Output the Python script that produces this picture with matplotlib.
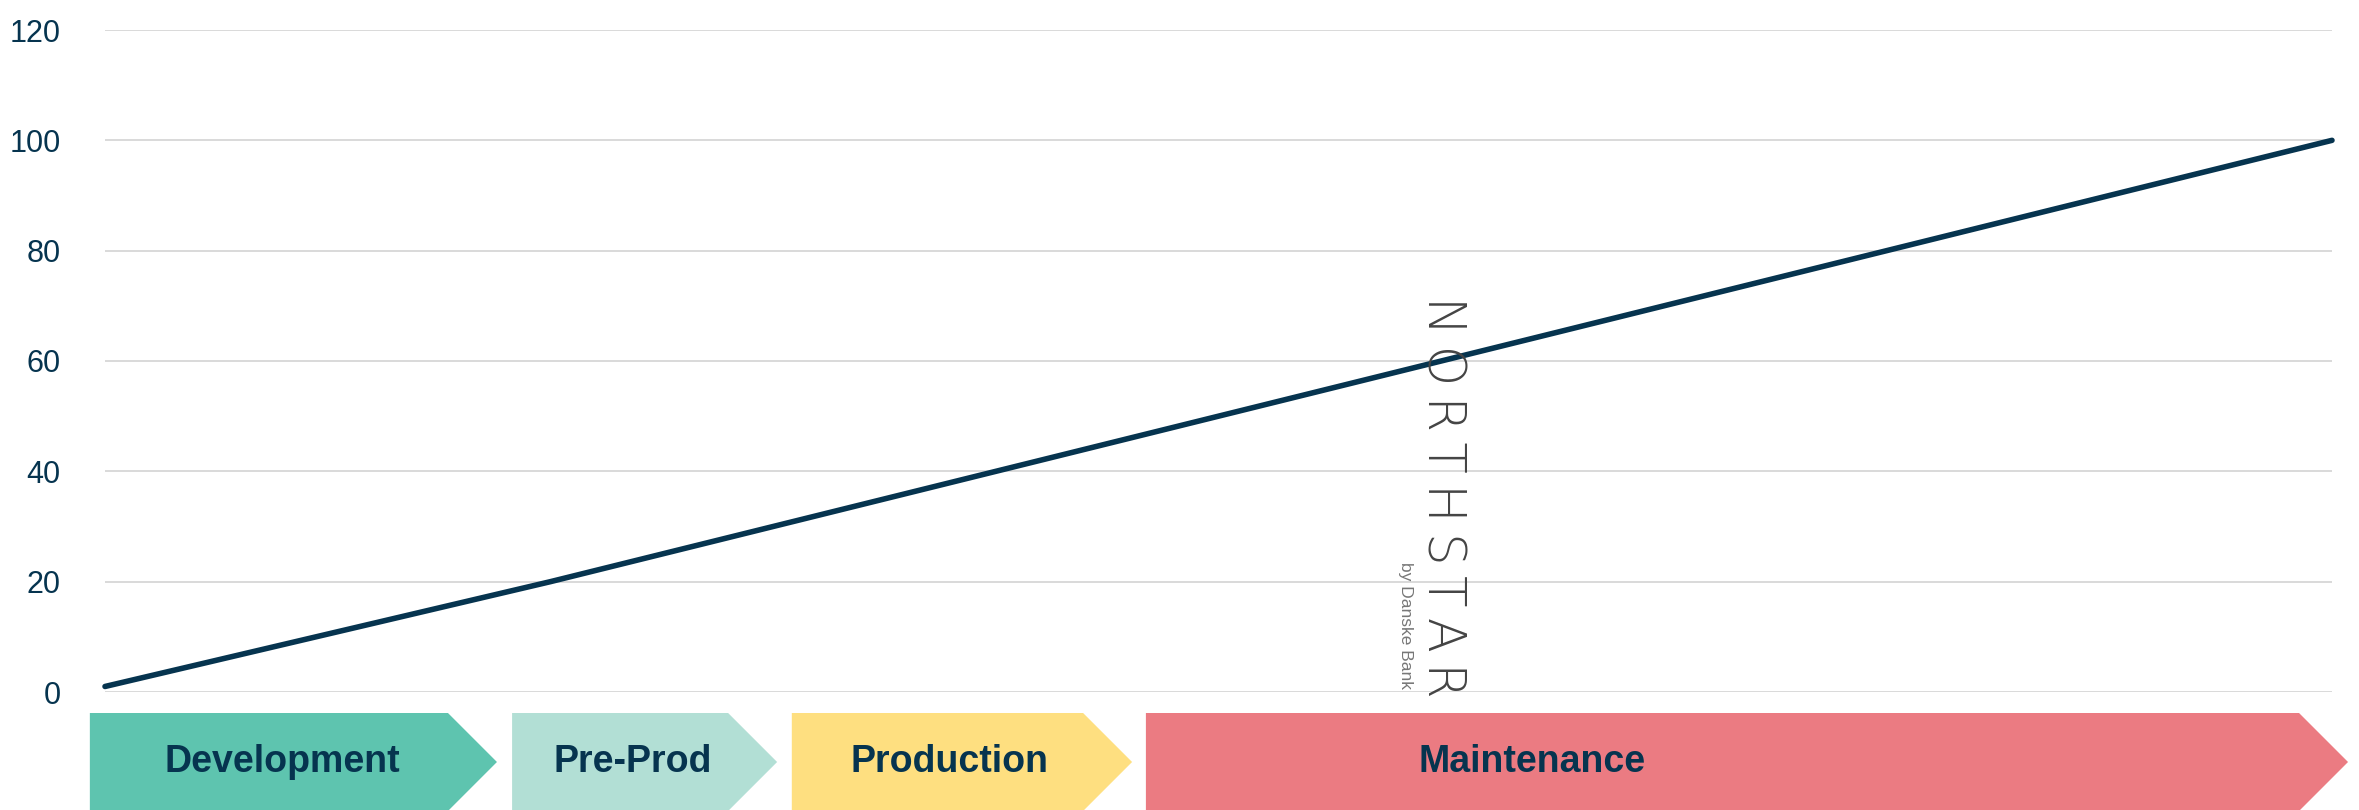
#!/usr/bin/env python3
"""
Lifecycle line chart with phase chevrons underneath and a vertical watermark.
"""
import matplotlib
matplotlib.use('Agg')
import matplotlib.pyplot as plt
from matplotlib.patches import Polygon

plt.rcParams.update({
    'font.family': ['Liberation Sans Narrow', 'Liberation Sans', 'DejaVu Sans'],
    'axes.unicode_minus': False,
})

# data
x_vals = [0, 1, 2, 3, 4, 5]
y_vals = [1, 20, 40, 60, 80, 100]
y_ticks = [0, 20, 40, 60, 80, 100, 120]

# phases (in x units of the line chart)
phase_names = ['Development', 'Pre-Prod', 'Production', 'Maintenance']
phase_start = [-0.034, 0.914, 1.542, 2.337]
phase_end = [0.770, 1.399, 2.196, 4.926]
phase_label_x = [0.397, 1.185, 1.897, 3.204]
phase_colors = ['#5EC4AF', '#B2DFD5', '#FEDF80', '#EB7B82']

NAVY = '#06344F'
TIP = 0.11

W, H = 2359, 810
fig = plt.figure(figsize=(W / 100, H / 100), dpi=100)

left, right = 105 / W, 2332 / W
ax = fig.add_axes([left, (H - 692) / H, right - left, (692 - 30) / H])
ax.plot(x_vals, y_vals, color=NAVY, lw=4, solid_capstyle='round', zorder=3,
        clip_on=False)
ax.set_xlim(0, 5)
ax.set_ylim(0, 120)
ax.set_yticks(y_ticks)
ax.set_xticks([])
ax.grid(axis='y', color='#D9D9D9', lw=1.4)
ax.set_axisbelow(True)
for s in ax.spines.values():
    s.set_visible(False)
ax.tick_params(axis='y', length=0, pad=32, labelsize=22, labelcolor=NAVY)

# phase chevrons
strip = fig.add_axes([left, -1 / H, right - left, (810 - 713 + 1) / H])
strip.set_xlim(0, 5)
strip.set_ylim(0, 1)
strip.axis('off')
for name, x0, x1, lx, col in zip(phase_names, phase_start, phase_end,
                                 phase_label_x, phase_colors):
    pts = [(x0, 0), (x0, 1), (x1, 1), (x1 + TIP, 0.5), (x1, 0)]
    strip.add_patch(Polygon(pts, closed=True, facecolor=col, edgecolor='none',
                            clip_on=False))
    strip.text(lx, 0.5, name, ha='center', va='center', fontsize=27,
               fontweight='bold', color=NAVY)

# watermark
fig.text(1442 / W, (H - 497) / H, '\u2009'.join('NORTHSTAR'), rotation=-90,
         ha='center', va='center', fontsize=37, color='#444444',
         family=['DejaVu Sans'], fontweight='light')
fig.text(1405 / W, (H - 625) / H, 'by Danske Bank', rotation=-90,
         ha='center', va='center', fontsize=12.5, color='#777777',
         family=['Liberation Sans', 'DejaVu Sans'])

fig.savefig('out.png', dpi=100)
plt.close(fig)
